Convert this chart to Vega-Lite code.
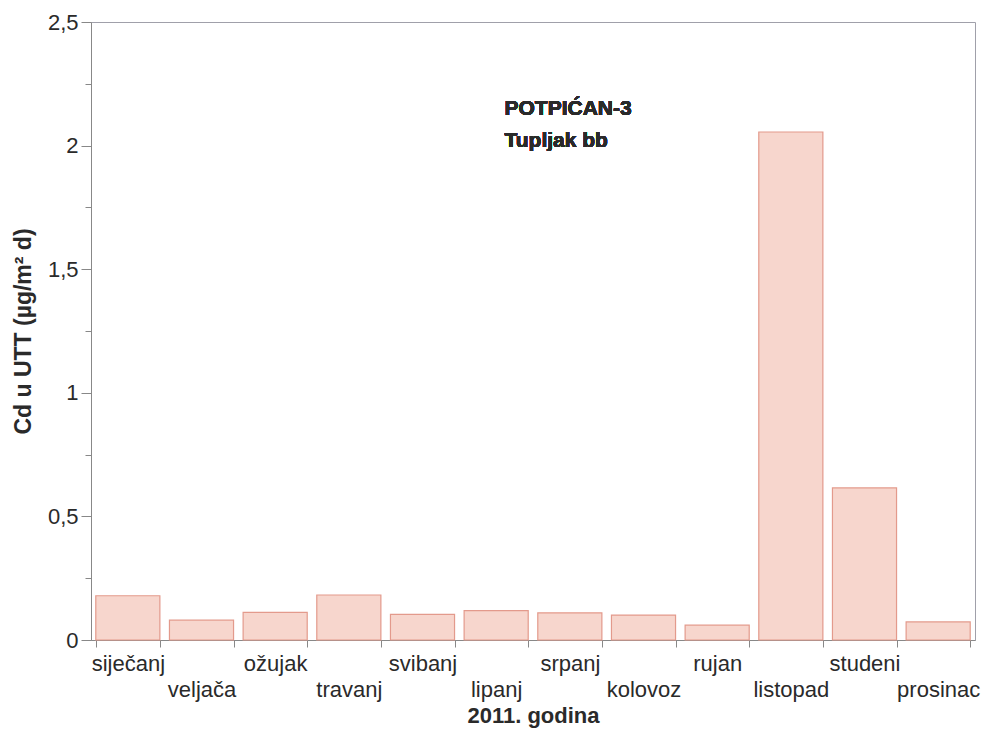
{
  "$schema": "https://vega.github.io/schema/vega-lite/v6.json",
  "width": 884,
  "height": 618,
  "autosize": "none",
  "padding": {"left": 91, "top": 22, "right": 10, "bottom": 91},
  "background": "white",
  "config": {
    "font": "Liberation Sans",
    "view": {"stroke": "#a0a0aa", "strokeWidth": 1}
  },
  "data": {
    "values": [
      {"month": "siječanj", "cd": 0.179},
      {"month": "veljača", "cd": 0.080},
      {"month": "ožujak", "cd": 0.112},
      {"month": "travanj", "cd": 0.182},
      {"month": "svibanj", "cd": 0.104},
      {"month": "lipanj", "cd": 0.119},
      {"month": "srpanj", "cd": 0.110},
      {"month": "kolovoz", "cd": 0.101},
      {"month": "rujan", "cd": 0.060},
      {"month": "listopad", "cd": 2.055},
      {"month": "studeni", "cd": 0.615},
      {"month": "prosinac", "cd": 0.073}
    ]
  },
  "layer": [
    {
      "mark": {"type": "bar", "fill": "#f7d6cd", "stroke": "#e39a8c", "strokeWidth": 1.2},
      "encoding": {
        "x": {
          "field": "month",
          "type": "nominal",
          "sort": null,
          "scale": {"paddingInner": 0.13, "paddingOuter": 0.065},
          "axis": {
            "title": "2011. godina",
            "titleFontSize": 22,
            "titleFontWeight": "bold",
            "titleColor": "#2a2a2a",
            "titlePadding": 5,
            "labelAngle": 0,
            "labelFontSize": 22,
            "labelColor": "#2a2a2a",
            "labelBaseline": "top",
            "labelPadding": 6,
            "labelLineHeight": 26,
            "labelOverlap": false,
            "labelBound": false,
            "labelExpr": "indexof(['veljača','travanj','lipanj','kolovoz','listopad','prosinac'], datum.value) >= 0 ? ['', datum.label] : datum.label",
            "tickBand": "extent",
            "tickSize": 7,
            "tickColor": "#888",
            "domainColor": "#888"
          }
        },
        "y": {
          "field": "cd",
          "type": "quantitative",
          "scale": {"domain": [0, 2.5], "nice": false},
          "axis": {
            "title": "Cd u UTT (µg/m² d)",
            "titleFontSize": 23,
            "titleFontWeight": "bold",
            "titleColor": "#2a2a2a",
            "titlePadding": 12,
            "values": [0, 0.25, 0.5, 0.75, 1, 1.25, 1.5, 1.75, 2, 2.25, 2.5],
            "labelExpr": "datum.value % 0.5 === 0 ? replace(format(datum.value, ''), '.', ',') : ''",
            "labelFontSize": 22,
            "labelColor": "#2a2a2a",
            "labelPadding": 3,
            "grid": false,
            "tickSize": {"condition": {"test": "datum.value % 0.5 !== 0", "value": 6}, "value": 10},
            "tickColor": "#888",
            "domainColor": "#888"
          }
        }
      }
    },
    {
      "mark": {"type": "text", "align": "left", "baseline": "middle", "fontWeight": "bold", "fontSize": 21, "color": "#2a2a2a"},
      "encoding": {
        "x": {"datum": "lipanj", "type": "nominal", "bandPosition": 0.63},
        "y": {"datum": 2.15, "type": "quantitative"},
        "text": {"value": "POTPIĆAN-3"}
      }
    },
    {
      "mark": {"type": "text", "align": "left", "baseline": "middle", "fontWeight": "bold", "fontSize": 21, "color": "#2a2a2a"},
      "encoding": {
        "x": {"datum": "lipanj", "type": "nominal", "bandPosition": 0.63},
        "y": {"datum": 2.02, "type": "quantitative"},
        "text": {"value": "Tupljak bb"}
      }
    }
  ]
}
